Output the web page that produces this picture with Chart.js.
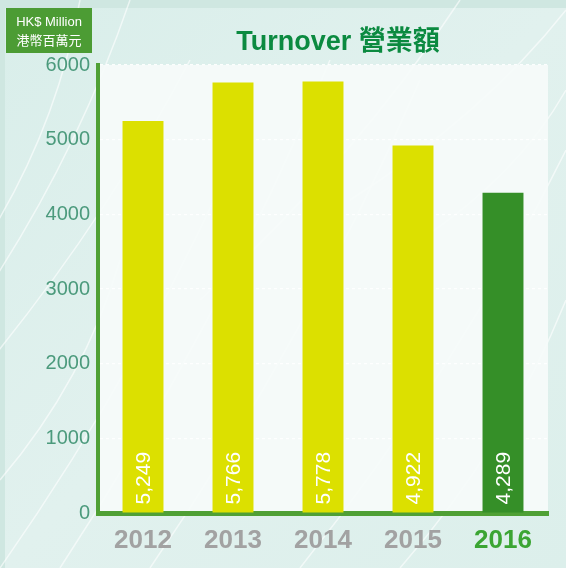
<!DOCTYPE html>
<html>
<head>
<meta charset="utf-8">
<script src="https://cdn.jsdelivr.net/npm/chart.js@4/dist/chart.umd.min.js"></script>
<style>
html,body{margin:0;padding:0;background:#d7ebe6;}
#wrap{width:566px;height:568px;position:relative;}
</style>
</head>
<body>
<div id="wrap"><canvas id="c" width="566" height="568"></canvas></div>
<script>
const categories = ['2012', '2013', '2014', '2015', '2016'];
const turnover = [5249, 5766, 5778, 4922, 4289];
const valueLabels = ['5,249', '5,766', '5,778', '4,922', '4,289'];
const yTicks = [0, 1000, 2000, 3000, 4000, 5000, 6000];
const titleText = 'Turnover 營業額';
const unitLines = ['HK$ Million', '港幣百萬元'];

const barColors = ['#dce000', '#dce000', '#dce000', '#dce000', '#358f28'];
const xLabelColors = ['#a2a2a2', '#a2a2a2', '#a2a2a2', '#a2a2a2', '#3ba533'];

const bgPlugin = {
  id: 'bg',
  beforeDraw(chart) {
    const ctx = chart.ctx, W = chart.width, H = chart.height;
    ctx.save();
    ctx.fillStyle = '#cfe7e1';
    ctx.fillRect(0, 0, W, H);
    const g = ctx.createLinearGradient(0, 0, W, H);
    g.addColorStop(0, '#d9eeea');
    g.addColorStop(0.5, '#e1f1ee');
    g.addColorStop(1, '#dcefeb');
    ctx.fillStyle = g;
    ctx.fillRect(5, 8, W - 5, H - 8);
    // streaks
    ctx.strokeStyle = 'rgba(255,255,255,0.6)';
    ctx.lineWidth = 1.5;
    const streaks = [[-40,330,130,0],[-60,420,190,60],[0,568,250,120],[60,568,330,60],[150,568,420,80],[300,568,566,150],[400,568,566,300],[200,300,460,0],[350,200,566,10],[420,240,566,90],[-20,250,80,0],[0,480,120,260]];
    streaks.forEach(s => {
      ctx.beginPath();
      ctx.moveTo(s[0], s[1]);
      ctx.quadraticCurveTo((s[0]+s[2])/2 + 25, (s[1]+s[3])/2 + 10, s[2], s[3]);
      ctx.stroke();
    });
    const a = chart.chartArea;
    ctx.fillStyle = 'rgba(246,251,250,0.93)';
    ctx.fillRect(a.left, a.top, a.right - a.left, a.bottom - a.top);
    ctx.restore();
  },
  afterDraw(chart) {
    const ctx = chart.ctx;
    ctx.save();
    // unit box
    ctx.fillStyle = '#4c9c34';
    ctx.fillRect(6, 8, 86, 45);
    ctx.fillStyle = '#ffffff';
    ctx.textAlign = 'center';
    ctx.textBaseline = 'middle';
    ctx.font = '13px "Liberation Sans", Arial, sans-serif';
    ctx.fillText(unitLines[0], 49, 22);
    ctx.font = '13px "Noto Sans CJK TC", sans-serif';
    ctx.fillText(unitLines[1], 49, 40);
    // title
    ctx.fillStyle = '#0b8a40';
    ctx.font = 'bold 27px "Liberation Sans", "Noto Sans CJK TC", Arial, sans-serif';
    ctx.fillText(titleText, 338, 43);
    // value labels
    const meta = chart.getDatasetMeta(0);
    ctx.font = '21px "Liberation Sans", Arial, sans-serif';
    ctx.fillStyle = '#ffffff';
    ctx.textAlign = 'left';
    meta.data.forEach((bar, i) => {
      ctx.save();
      ctx.translate(bar.x, bar.base - 8);
      ctx.rotate(-Math.PI / 2);
      ctx.fillText(valueLabels[i], 0, 1);
      ctx.restore();
    });
    ctx.restore();
  }
};

new Chart(document.getElementById('c'), {
  type: 'bar',
  data: {
    labels: categories,
    datasets: [{
      data: turnover,
      backgroundColor: barColors,
      borderWidth: 0,
      categoryPercentage: 1,
      barPercentage: 0.455
    }]
  },
  options: {
    responsive: false,
    animation: false,
    layout: { padding: { top: 65, right: 18, left: 0, bottom: 0 } },
    plugins: { legend: { display: false }, tooltip: { enabled: false } },
    scales: {
      x: {
        grid: { display: false },
        border: { display: true, color: '#4fa035', width: 5 },
        ticks: {
          color: ctx => xLabelColors[ctx.index],
          font: { family: '"Liberation Sans", Arial, sans-serif', size: 26, weight: 'bold' },
          padding: 4
        },
        afterFit(scale) { scale.height = 55; }
      },
      y: {
        min: 0,
        max: 6000,
        z: 1,
        afterBuildTicks(scale) { scale.ticks = yTicks.map(v => ({ value: v })); },
        grid: { color: 'rgba(255,255,255,0.9)', lineWidth: 1.2, drawTicks: false },
        border: { display: true, color: '#4fa035', width: 4, dash: [3, 3] },
        ticks: {
          color: '#4b9a7c',
          font: { family: '"Liberation Sans", Arial, sans-serif', size: 20 },
          padding: 8,
          callback: v => String(v)
        },
        afterFit(scale) { scale.width = 98; }
      }
    }
  },
  plugins: [bgPlugin]
});
</script>
</body>
</html>
